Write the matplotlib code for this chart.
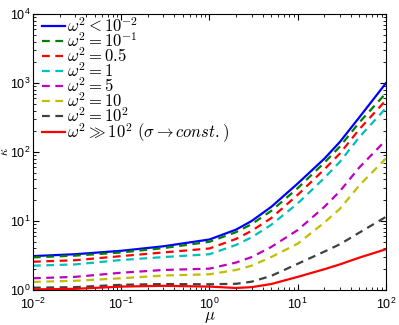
import numpy as np
import matplotlib
matplotlib.use("Agg")
import matplotlib.pyplot as plt
from matplotlib.ticker import FuncFormatter, LogLocator

plt.rcParams['font.family'] = ['Liberation Sans', 'DejaVu Sans']
plt.rcParams['mathtext.fontset'] = 'cm'

# valores
mu = [0.01, 0.03, 0.1, 0.3, 1, 2, 3, 5, 10, 20, 30, 50, 100]

k_w001 = [3.1, 3.3, 3.7, 4.3, 5.4, 7.5, 10, 16, 35, 80, 140, 320, 1000]
k_w01 = [2.97, 3.15, 3.5, 4.05, 5.0, 6.9, 9.0, 14, 30, 70, 120, 270, 715]
k_w05 = [2.57, 2.7, 3.1, 3.5, 4.0, 5.5, 7.2, 11, 24, 56, 95, 215, 565]
k_w1 = [2.25, 2.35, 2.72, 3.0, 3.3, 4.5, 5.8, 8.8, 18, 42, 72, 165, 435]
k_w5 = [1.48, 1.55, 1.78, 1.95, 2.04, 2.5, 3.0, 4.2, 7.4, 16, 27, 60, 149]
k_w10 = [1.31, 1.36, 1.48, 1.62, 1.69, 1.95, 2.25, 3.0, 4.7, 9.5, 15, 33, 81]
k_w100 = [1.08, 1.1, 1.19, 1.22, 1.21, 1.23, 1.32, 1.6, 2.4, 3.6, 4.6, 6.8, 11.5]
k_inf = [1.02, 1.04, 1.12, 1.15, 1.12, 1.07, 1.1, 1.22, 1.55, 2.0, 2.35, 2.95, 3.9]

etiquetas = [r'$\omega^2 < 10^{-2}$', r'$\omega^2 = 10^{-1}$', r'$\omega^2 = 0.5$',
             r'$\omega^2 = 1$', r'$\omega^2 = 5$', r'$\omega^2 = 10$',
             r'$\omega^2 = 10^2$', r'$\omega^2 \gg 10^2\ (\sigma \rightarrow const.)$']
series = [k_w001, k_w01, k_w05, k_w1, k_w5, k_w10, k_w100, k_inf]
colores = ['#0000ff', '#008000', '#ff0000', '#00bfbf', '#bf00bf', '#bfbf00', '#404040', '#ff0000']
estilos = ['-', '--', '--', '--', '--', '--', '--', '-']

fig = plt.figure(figsize=(3.99, 3.25), dpi=100)
ax = fig.add_axes([0.0827, 0.1077, 0.8847, 0.849])

for k, lab, c, ls in zip(series, etiquetas, colores, estilos):
    if ls == '--':
        ax.plot(mu, k, color=c, ls=ls, lw=1.6, dashes=(3.5, 2.5), label=lab)
    else:
        ax.plot(mu, k, color=c, ls=ls, lw=1.6, label=lab)

ax.set_xscale('log')
ax.set_yscale('log')
ax.set_xlim(1e-2, 1e2)
ax.set_ylim(1e0, 1e4)

fmt = FuncFormatter(lambda v, p: r'$\mathregular{10^{%d}}$' % int(round(np.log10(v))))
ax.xaxis.set_major_formatter(fmt)
ax.yaxis.set_major_formatter(fmt)
ax.xaxis.set_major_locator(LogLocator(base=10, numticks=10))
ax.yaxis.set_major_locator(LogLocator(base=10, numticks=10))
ax.tick_params(which='both', direction='in', top=True, right=True, labelsize=9)
ax.tick_params(which='major', length=4, pad=2)
ax.tick_params(which='minor', length=2)
ax.tick_params(axis='x', which='major', pad=5)

ax.set_xlabel(r'$\mu$', fontsize=12, labelpad=-1.5)
ax.set_ylabel(r'$\kappa$', fontsize=9, labelpad=0)
ax.yaxis.set_label_coords(-0.062, 0.5)

ax.legend(loc='upper left', bbox_to_anchor=(0.02, 1.0), frameon=False, fontsize=12,
          handlelength=1.4, handletextpad=0.1, labelspacing=-0.22,
          borderaxespad=0.0, borderpad=0.1)

fig.savefig('out.png', dpi=100)
